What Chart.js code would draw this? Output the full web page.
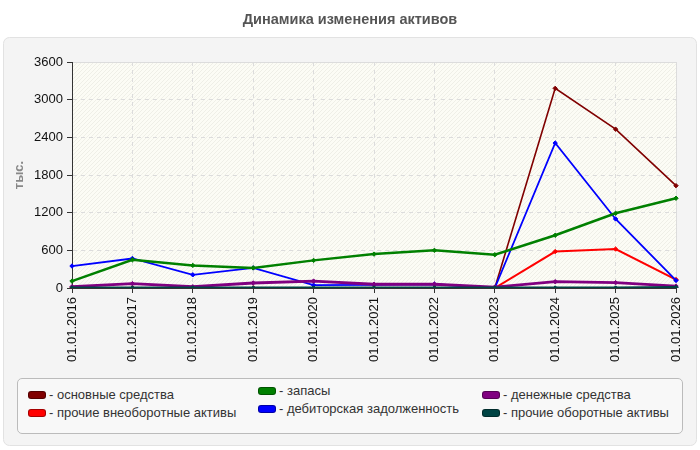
<!DOCTYPE html>
<html><head><meta charset="utf-8">
<script src="https://cdn.jsdelivr.net/npm/chart.js@4.4.1/dist/chart.umd.min.js"></script>
<style>
html,body{margin:0;padding:0;background:#fff;}
#wrap{position:relative;width:700px;height:450px;}
#legend{position:absolute;left:17px;top:378px;width:666px;height:56px;border:1px solid #bbb;border-radius:5px;background:#f8f8f8;box-sizing:border-box;font-family:"Liberation Sans",Arial,sans-serif;font-size:13px;color:#333;}
.li{position:absolute;white-space:nowrap;line-height:15px;}
.sw{display:inline-block;width:18px;height:8px;border-radius:3px;margin-right:3px;vertical-align:0px;box-sizing:border-box;border:1px solid rgba(0,0,0,0.35);}
</style></head>
<body><div id="wrap"><canvas id="c" width="700" height="450"></canvas><div id="legend"></div></div>
<script>
const chartTitle = 'Динамика изменения активов';
const labels = ["01.01.2016","01.01.2017","01.01.2018","01.01.2019","01.01.2020","01.01.2021","01.01.2022","01.01.2023","01.01.2024","01.01.2025","01.01.2026"];
const osnovnye = [0,0,0,0,0,0,0,0,3180,2530,1630];
const prochieVne = [0,0,0,0,0,0,0,0,580,620,135];
const zapasy = [110,450,360,320,440,540,600,530,840,1190,1430];
const debitorskaya = [350,470,210,320,45,50,60,0,2310,1100,120];
const denezhnye = [20,70,20,80,110,60,60,15,100,85,30];
const prochieOb = [0,0,0,0,0,0,0,0,0,0,10];
const seriesNames = ["основные средства","прочие внеоборотные активы","запасы","дебиторская задолженность","денежные средства","прочие оборотные активы"];
const seriesColors = ["#800000","#ff0000","#008000","#0000ff","#800080","#004444"];
const seriesData = [osnovnye, prochieVne, zapasy, debitorskaya, denezhnye, prochieOb];
const widths = [1.6,2,2.5,1.8,2.8,2.8];
const orders = [5,4,2,3,1,0];
const FONT = '"Liberation Sans", Arial, sans-serif';

const bgPlugin = {
  id:'bg',
  beforeDraw(chart){
    const ctx = chart.ctx, a = chart.chartArea;
    ctx.save();
    ctx.fillStyle='#fff'; ctx.fillRect(0,0,700,450);
    ctx.fillStyle='#555';
    ctx.font='bold 14.5px '+FONT;
    ctx.textAlign='center'; ctx.textBaseline='middle';
    ctx.fillText(chartTitle, 350, 20);
    ctx.beginPath();
    if (ctx.roundRect) ctx.roundRect(3.5,37.5,693,408,6); else ctx.rect(3.5,37.5,693,408);
    ctx.fillStyle='#f4f4f4'; ctx.fill();
    ctx.strokeStyle='#e2e2e2'; ctx.lineWidth=1; ctx.stroke();
    ctx.fillStyle='#fcfcf5';
    ctx.fillRect(a.left,a.top,a.right-a.left,a.bottom-a.top);
    ctx.beginPath();
    ctx.rect(a.left,a.top,a.right-a.left,a.bottom-a.top);
    ctx.clip();
    ctx.strokeStyle='rgba(225,225,215,0.45)';
    ctx.lineWidth=1;
    for(let s=-300; s<a.right-a.left+300; s+=4){
      ctx.beginPath();
      ctx.moveTo(a.left+s, a.bottom);
      ctx.lineTo(a.left+s+(a.bottom-a.top), a.top);
      ctx.stroke();
    }
    ctx.restore();
    ctx.save();
    ctx.strokeStyle='#dcdcdc'; ctx.lineWidth=1;
    ctx.beginPath();
    ctx.moveTo(a.left, a.top+0.5); ctx.lineTo(a.right+0.5, a.top+0.5); ctx.lineTo(a.right+0.5, a.bottom);
    ctx.stroke();
    ctx.restore();
  }
};

const datasets = seriesNames.map((n,i)=>({
  label:n, data:seriesData[i], borderColor:seriesColors[i], backgroundColor:seriesColors[i],
  borderWidth:widths[i], pointStyle:'rectRot', pointRadius:2.2, pointBorderWidth:1,
  tension:0, fill:false, order:orders[i]
}));

new Chart(document.getElementById('c'), {
  type:'line',
  data:{labels, datasets},
  plugins:[bgPlugin],
  options:{
    responsive:false, animation:false, devicePixelRatio:1,
    layout:{padding:{left:0,right:24,top:62,bottom:0}},
    plugins:{
      legend:{display:false}, tooltip:{enabled:false}, title:{display:false}
    },
    scales:{
      x:{
        offset:false,
        grid:{color:'#dcdcdc',tickLength:5,drawTicks:true,tickColor:'#333'},
        border:{display:true,color:'#333',dash:[4,4]},
        ticks:{minRotation:90,maxRotation:90,color:'#111',padding:4,
          font:{family:FONT,size:13}},
        afterFit(s){ s.height = 162; }
      },
      y:{
        min:0,max:3600,
        grid:{color:'#dcdcdc',tickLength:5,tickColor:'#333'},
        border:{display:true,color:'#333',dash:[4,4]},
        ticks:{stepSize:600,color:'#111',padding:4,callback:(v)=>String(v),
          font:{family:FONT,size:13}},
        title:{display:true,text:'тыс.',color:'#888',padding:{top:12,bottom:0},
          font:{family:FONT,size:13,weight:'bold'}},
        afterFit(s){ s.width = 72; }
      }
    }
  }
});

const leg = document.getElementById('legend');
const pos = [[10,8],[10,26],[240,4],[240,22],[464,8],[464,26]];
seriesNames.forEach((n,i)=>{
  const d=document.createElement('div'); d.className='li';
  d.style.left=pos[i][0]+'px'; d.style.top=pos[i][1]+'px';
  d.innerHTML='<span class="sw" style="background:'+seriesColors[i]+'"></span>- '+n;
  leg.appendChild(d);
});
</script></body></html>
